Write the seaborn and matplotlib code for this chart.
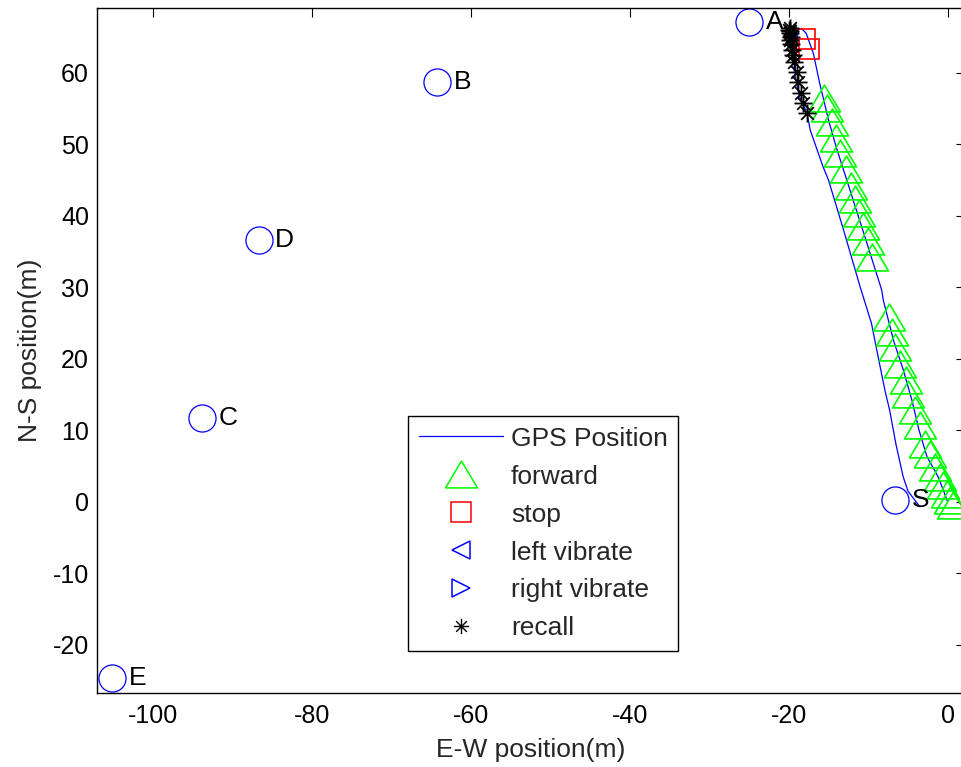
import numpy as np
import pandas as pd
import matplotlib
matplotlib.use("Agg")
import matplotlib.pyplot as plt
import seaborn as sns
from matplotlib.path import Path
from matplotlib.lines import Line2D

# ---------------- data ----------------
gps_x = [0.0, -1.2, -2.6, -3.6, -4.5, -5.6, -6.8, -8.1, -8.3, -10.4, -12.7, -14.0,
         -15.0, -16.1, -16.9, -17.8, -18.4,
         -18.8, -19.1, -19.2, -18.6, -17.7, -17.3, -15.7, -15.0, -13.1, -11.0,
         -9.6, -8.7, -7.9, -7.3, -6.5, -5.6, -5.0, -3.5]
gps_y = [0.0, 3.5, 6.3, 10.0, 14.2, 18.5, 22.5, 28.2, 29.6, 37.0, 45.0, 49.5,
         53.4, 58.5, 62.7, 65.5, 66.2,
         66.0, 63.0, 59.4, 56.5, 54.4, 52.0, 46.9, 45.0, 38.0, 30.0,
         25.0, 20.0, 15.6, 12.8, 8.0, 3.5, 1.5, -0.7]

forward_x = [-15.6, -15.2, -14.6, -14.0, -13.5, -12.8, -12.2, -11.7, -11.2, -10.7, -10.0, -9.5,
             -7.4, -7.0, -6.6, -6.0, -5.3, -5.0, -4.1, -3.5, -2.9, -2.2, -1.6, -1.0,
             -0.55, -0.1, 0.3, 0.7]
forward_y = [56.4, 55.0, 53.1, 50.9, 48.8, 46.5, 44.1, 42.3, 40.4, 38.6, 36.4, 34.2,
             25.9, 23.8, 21.7, 19.3, 17.0, 15.1, 12.8, 10.7, 8.1, 6.7, 4.9, 3.5,
             2.3, 1.1, 0.2, -0.5]

stop_x = [-17.9, -17.4]
stop_y = [64.7, 63.3]

left_vibrate_x = []
left_vibrate_y = []
right_vibrate_x = []
right_vibrate_y = []

recall_x = [-20.0, -19.9, -19.8, -19.8, -19.7, -19.8, -19.7, -19.6, -19.5, -19.4,
            -19.0, -18.8, -18.4, -18.2, -17.7]
recall_y = [66.0, 65.8, 66.2, 65.5, 65.0, 64.6, 64.0, 63.2, 62.5, 61.5,
            60.1, 58.7, 57.1, 55.7, 54.3]

landmark_names = ["A", "B", "D", "C", "E", "S"]
landmark_x = [-25.0, -64.2, -86.7, -93.8, -105.1, -6.6]
landmark_y = [67.1, 58.7, 36.6, 11.7, -24.7, 0.2]

# ---------------- style ----------------
sns.set_theme(style="white")
plt.rcParams["font.family"] = ["Liberation Sans", "DejaVu Sans"]
plt.rcParams["axes.unicode_minus"] = False
FS = 19
FS_TICK = 18

BLUE = (0, 0, 1)
GREEN = (0, 1, 0)
RED = (1, 0, 0)

tri = Path([(0, 0.84), (-1, -0.84), (1, -0.84), (0, 0.84)],
           [Path.MOVETO, Path.LINETO, Path.LINETO, Path.CLOSEPOLY])
star = Path([(-1, 0), (1, 0), (0, -1), (0, 1),
             (-0.7, -0.7), (0.7, 0.7), (-0.7, 0.7), (0.7, -0.7)],
            [Path.MOVETO, Path.LINETO] * 4)

fig = plt.figure(figsize=(9.61, 7.67), dpi=100)
ax = fig.add_axes([96.7 / 961, 1 - 692.7 / 767, (965 - 96.7) / 961, (692.7 - 8) / 767])

gps_df = pd.DataFrame({"x": gps_x, "y": gps_y})
sns.lineplot(data=gps_df, x="x", y="y", sort=False, estimator=None, ax=ax,
             color=BLUE, lw=0.9)

fwd_df = pd.DataFrame({"x": forward_x, "y": forward_y})
sns.lineplot(data=fwd_df, x="x", y="y", sort=False, estimator=None, ax=ax,
             linestyle="", marker=tri, markersize=23, markerfacecolor="none",
             markeredgecolor=GREEN, markeredgewidth=1.2)

stop_df = pd.DataFrame({"x": stop_x, "y": stop_y})
sns.lineplot(data=stop_df, x="x", y="y", sort=False, estimator=None, ax=ax,
             linestyle="", marker="s", markersize=15, markerfacecolor="none",
             markeredgecolor=RED, markeredgewidth=1.2)

rec_df = pd.DataFrame({"x": recall_x, "y": recall_y})
sns.lineplot(data=rec_df, x="x", y="y", sort=False, estimator=None, ax=ax,
             linestyle="", marker=star, markersize=13, markerfacecolor="none",
             markeredgecolor="black", markeredgewidth=1.3)

ax.plot(left_vibrate_x, left_vibrate_y, ls="", marker="<", color=BLUE)
ax.plot(right_vibrate_x, right_vibrate_y, ls="", marker=">", color=BLUE)

lm_df = pd.DataFrame({"x": landmark_x, "y": landmark_y})
sns.lineplot(data=lm_df, x="x", y="y", sort=False, estimator=None, ax=ax,
             linestyle="", marker="o", markersize=19.5, markerfacecolor="none",
             markeredgecolor=BLUE, markeredgewidth=0.9)
for name, lx, ly in zip(landmark_names, landmark_x, landmark_y):
    ax.text(lx + 2.1, ly, name, fontsize=FS, ha="left", va="center", color="black")

ax.set_xlim(-107.08, 2.18)
ax.set_ylim(-26.7, 69.05)
ax.set_xticks([-100, -80, -60, -40, -20, 0])
ax.set_yticks([-20, -10, 0, 10, 20, 30, 40, 50, 60])
ax.tick_params(direction="in", length=6.3, width=0.8, top=True, right=True,
               labelsize=FS_TICK, colors="black")
ax.tick_params(axis="y", pad=5.5)
ax.tick_params(axis="x", pad=8)
for sp in ax.spines.values():
    sp.set_color("black")
    sp.set_linewidth(1.0)
ax.set_xlabel("E-W position(m)", fontsize=FS, labelpad=7)
ax.set_ylabel("N-S position(m)", fontsize=FS, labelpad=8)

handles = [
    Line2D([], [], color=BLUE, lw=0.9, label="GPS Position"),
    Line2D([], [], ls="", marker=tri, markersize=23, markerfacecolor="none",
           markeredgecolor=GREEN, markeredgewidth=1.1, label="forward"),
    Line2D([], [], ls="", marker="s", markersize=15, markerfacecolor="none",
           markeredgecolor=RED, markeredgewidth=1.1, label="stop"),
    Line2D([], [], ls="", marker="<", markersize=13, markerfacecolor="none",
           markeredgecolor=BLUE, markeredgewidth=1.1, label="left vibrate"),
    Line2D([], [], ls="", marker=">", markersize=13, markerfacecolor="none",
           markeredgecolor=BLUE, markeredgewidth=1.1, label="right vibrate"),
    Line2D([], [], ls="", marker=star, markersize=11, markerfacecolor="none",
           markeredgecolor="black", markeredgewidth=1.0, label="recall"),
]
leg = ax.legend(handles=handles, loc="upper left", bbox_to_anchor=(408 / 961, 1 - 416 / 767),
                bbox_transform=fig.transFigure, borderaxespad=0, fontsize=FS,
                frameon=True, fancybox=False, shadow=False, framealpha=1,
                edgecolor="black", handlelength=3.2, handletextpad=0.3,
                labelspacing=0.53, borderpad=0.4, numpoints=1)
leg.get_frame().set_linewidth(1.0)

fig.savefig("out.png", dpi=100)
